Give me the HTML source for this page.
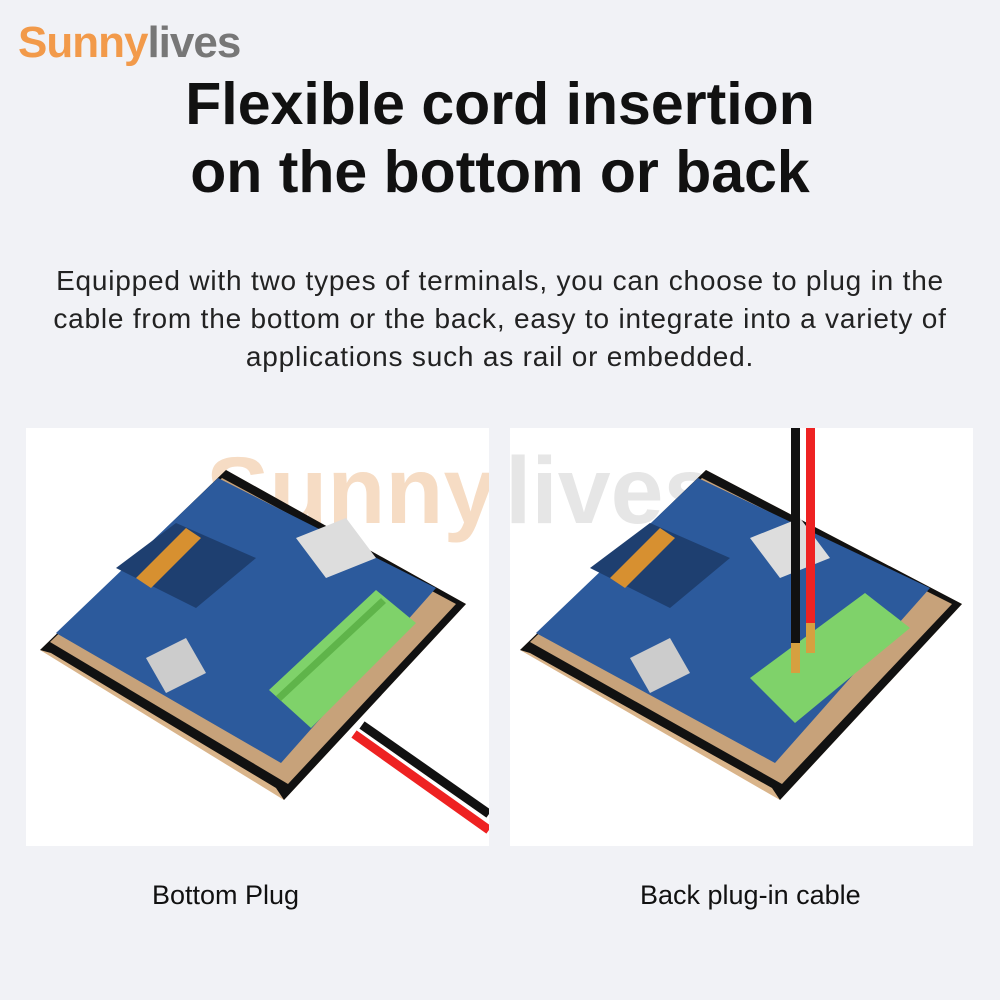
<!DOCTYPE html>
<html><head><meta charset="utf-8"><style>
body{margin:0;width:1000px;height:1000px;background:#f1f2f6;font-family:"Liberation Sans",sans-serif;position:relative;overflow:hidden}
.logo{position:absolute;left:18px;top:18px;font-size:44px;font-weight:bold;letter-spacing:-1px}
.title{position:absolute;left:0;width:1000px;top:70px;text-align:center;font-size:59px;font-weight:bold;line-height:68px;color:#111}
.para{position:absolute;left:40px;width:920px;top:262px;text-align:center;font-size:28px;letter-spacing:0.8px;line-height:38px;color:#222}
.panel{position:absolute;top:428px;width:463px;height:418px;background:#fff;overflow:hidden}
.cap{position:absolute;top:880px;font-size:27px;color:#111}
</style></head><body>
<div class="logo"><span style="color:#f29a4a">Sunny</span><span style="color:#777">lives</span></div>
<div class="title">Flexible cord insertion<br>on the bottom or back</div>
<div class="para">Equipped with two types of terminals, you can choose to plug in the cable from the bottom or the back, easy to integrate into a variety of applications such as rail or embedded.</div>
<div class="panel" style="left:26px"><svg width="463" height="418" viewBox="0 0 463 418">
<text x="180" y="95" font-size="95" font-weight="bold" fill="#f6dcc4" font-family="Liberation Sans">Sunny</text>
<polygon points="14,222 200,42 440,176 258,372" fill="#d9b48a"/>
<polygon points="14,222 200,42 440,176 258,372 250,360 25,225" fill="#111"/>
<polygon points="24,214 196,50 430,176 262,356" fill="#c7a27a"/>
<polygon points="30,205 192,50 410,160 255,335" fill="#2c5a9c"/>
<polygon points="90,140 150,95 230,130 170,180" fill="#1e3f70"/>
<polygon points="110,150 160,100 175,110 125,160" fill="#d79030"/>
<polygon points="270,110 320,90 350,130 300,150" fill="#ddd"/>
<polygon points="243,262 350,162 390,195 285,300" fill="#7fd26a"/>
<polygon points="250,268 355,170 360,175 255,273" fill="#5fb44a"/>
<polygon points="120,230 160,210 180,245 140,265" fill="#ccc"/>
<line x1="328" y1="306" x2="463" y2="402" stroke="#e22" stroke-width="9"/>
<line x1="336" y1="297" x2="463" y2="386" stroke="#111" stroke-width="9"/>
</svg></div>
<div class="panel" style="left:510px"><svg width="463" height="418" viewBox="0 0 463 418">
<text x="-5" y="95" font-size="95" font-weight="bold" fill="#e6e6e6" font-family="Liberation Sans">lives</text>
<polygon points="10,222 196,42 452,176 270,372" fill="#d9b48a"/>
<polygon points="10,222 196,42 452,176 270,372 262,360 20,225" fill="#111"/>
<polygon points="20,214 192,50 442,176 272,356" fill="#c7a27a"/>
<polygon points="26,205 188,50 420,160 265,335" fill="#2c5a9c"/>
<polygon points="80,140 140,95 220,130 160,180" fill="#1e3f70"/>
<polygon points="100,150 150,100 165,110 115,160" fill="#d79030"/>
<polygon points="240,110 290,90 320,130 270,150" fill="#ddd"/>
<polygon points="240,250 355,165 400,200 285,295" fill="#7fd26a"/>
<polygon points="120,230 160,210 180,245 140,265" fill="#ccc"/>
<rect x="281" y="0" width="9" height="230" fill="#111"/>
<rect x="296" y="0" width="9" height="210" fill="#e22"/>
<rect x="281" y="215" width="9" height="30" fill="#d6a040"/>
<rect x="296" y="195" width="9" height="30" fill="#d6a040"/>
</svg></div>
<div class="cap" style="left:152px">Bottom Plug</div>
<div class="cap" style="left:640px">Back plug-in cable</div>
</body></html>
